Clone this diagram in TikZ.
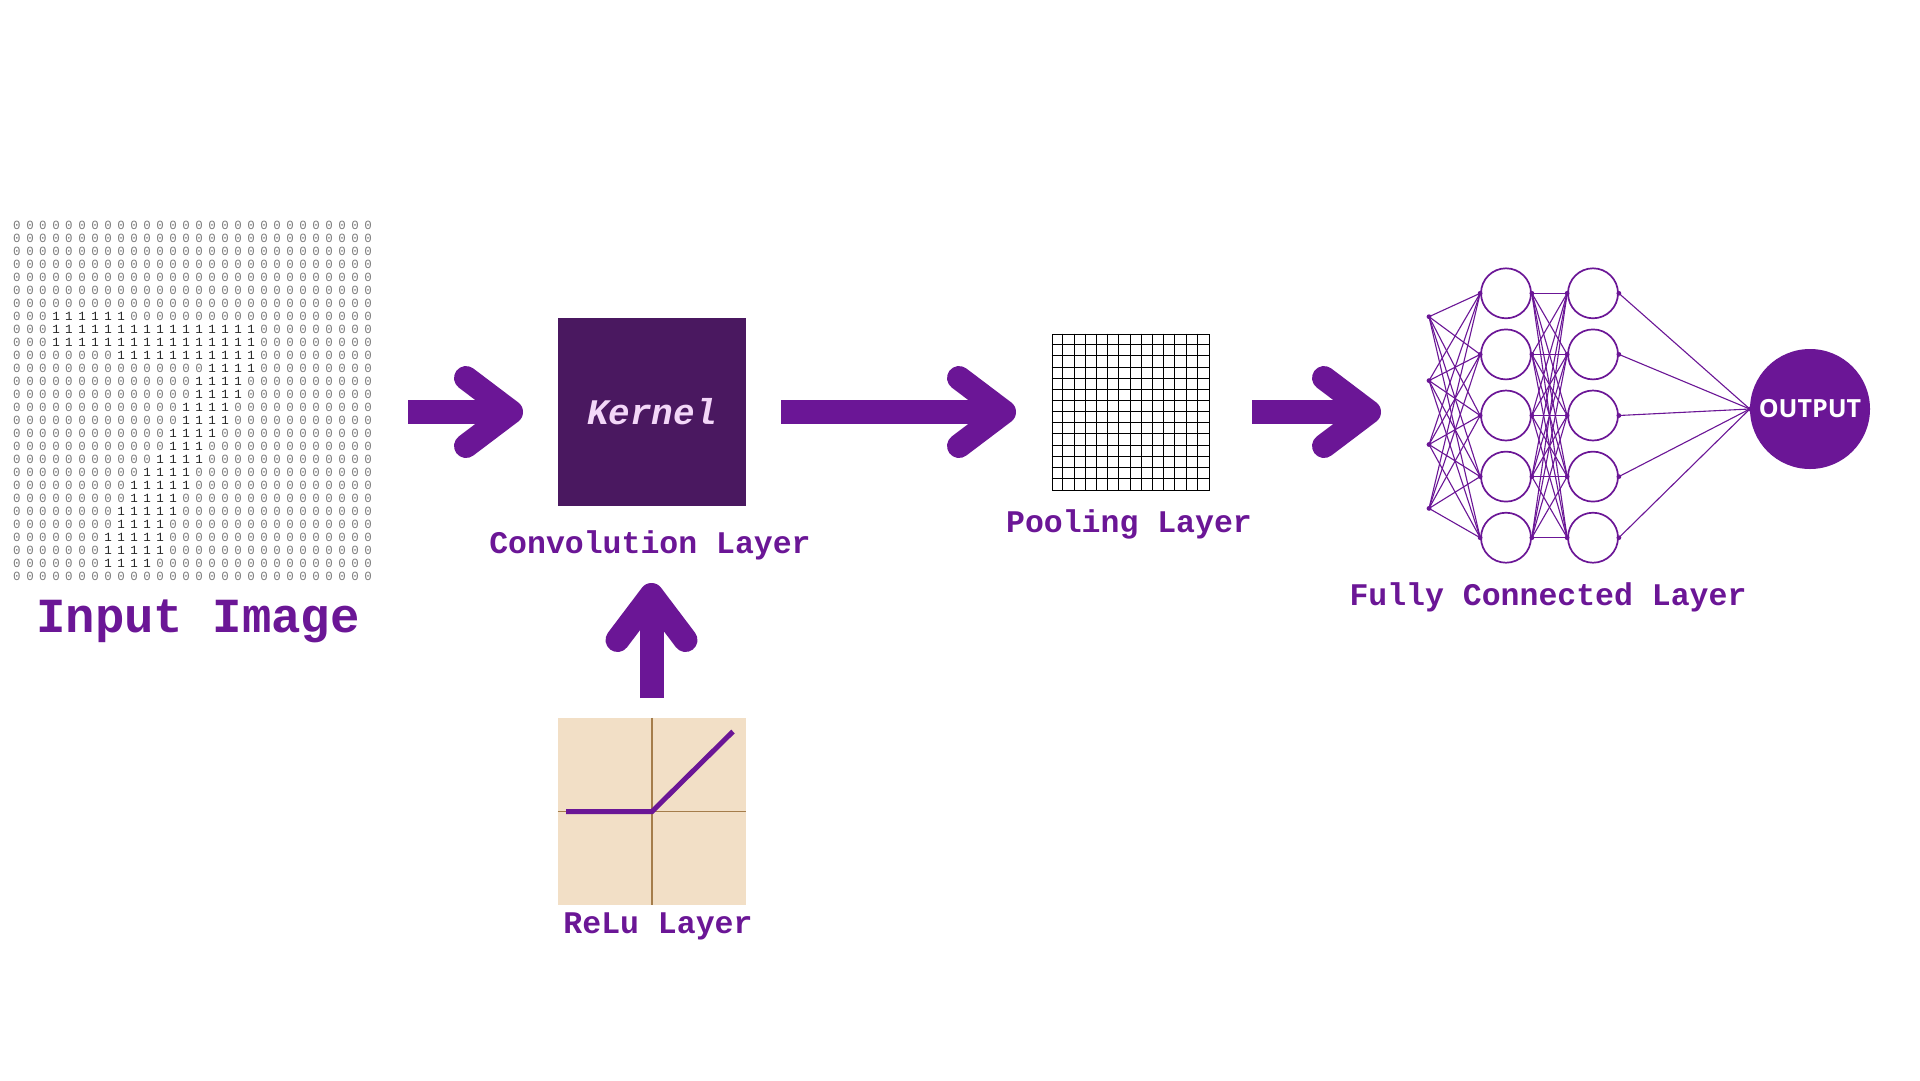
\documentclass[tikz,border=0pt]{standalone}
\usepackage{fontspec}
\setmonofont{Liberation Mono}
\newfontfamily\outfont{Open Sans}
\usetikzlibrary{calc}
\definecolor{cnnpurple}{RGB}{107,22,150}
\definecolor{kernelfill}{RGB}{74,24,96}
\definecolor{kerneltext}{RGB}{243,215,248}
\definecolor{relufill}{RGB}{242,223,198}
\definecolor{reluaxis}{RGB}{165,125,75}
\definecolor{zerogray}{RGB}{125,125,125}
\tikzset{
    digit zero/.style = {
        inner sep=0,
        text=zerogray,
        font=\ttfamily\fontsize{12.5}{12.5}\selectfont,
        },
    digit one/.style = {
        inner sep=0,
        text=black!85,
        font=\ttfamily\fontsize{12.5}{12.5}\selectfont,
        },
    layer box/.style = {
        minimum width=188pt,
        minimum height=188pt,
        inner sep=0,
        },
    layer label/.style = {
        anchor=base,
        inner sep=0,
        text=cnnpurple,
        font=\ttfamily\bfseries\fontsize{31.5}{31.5}\selectfont,
        },
    flow/.style = {
        draw=cnnpurple,
        line width=24pt,
        line cap=butt,
        },
    flow head/.style = {
        draw=cnnpurple,
        line width=24pt,
        line cap=round,
        line join=round,
        },
    pool line/.style = {
        draw=black,
        line width=0.9pt,
        },
    neuron/.style = {
        draw=cnnpurple,
        circle,
        line width=1.7pt,
        minimum size=50pt,
        inner sep=0,
        },
    synapse/.style = {
        draw=cnnpurple,
        line width=1.1pt,
        },
    pin/.style = {
        fill=cnnpurple,
        },
}

\begin{document}
\begin{tikzpicture}[x=1pt,y=-1pt]
    \useasboundingbox[fill=white] (0,0) rectangle (1920,1080);

    % input image: 28x28 digit
    \foreach \r/\a/\b in {0/99/-1,1/99/-1,2/99/-1,3/99/-1,4/99/-1,5/99/-1,6/99/-1,
        7/3/8,8/3/18,9/3/18,10/8/18,11/15/18,12/14/17,13/14/17,14/13/16,15/13/16,
        16/12/15,17/12/14,18/11/14,19/10/13,20/9/13,21/9/12,22/8/12,23/8/11,
        24/7/11,25/7/11,26/7/10,27/99/-1}{
        \foreach \c in {0,...,27}{
            \pgfmathtruncatemacro\bit{(\c>=\a)&&(\c<=\b)}
            \ifnum\bit=1
                \node[digit one] (d-\r-\c) at (17+13*\c, 225+13*\r) {1};
            \else
                \node[digit zero] (d-\r-\c) at (17+13*\c, 225+13*\r) {0};
            \fi
        }
    }
    \node[layer label, font=\ttfamily\bfseries\fontsize{49}{49}\selectfont] (input-label) at (198,632) {Input Image};

    % convolution
    \node[layer box, fill=kernelfill, text=kerneltext,
        font=\ttfamily\bfseries\itshape\fontsize{36}{36}\selectfont] (kernel) at (652,412) {Kernel};
    \node[layer label] (conv-label) at (650,553) {Convolution Layer};

    % relu
    \node[layer box, fill=relufill, minimum height=187pt] (relu) at (652,811.5) {};
    \draw[reluaxis, line width=1.4pt] (relu.north) -- (relu.south);
    \draw[reluaxis, line width=1.4pt] (relu.west) -- (relu.east);
    \draw[cnnpurple, line width=5pt] ($(relu.center)+(-86,0)$) -- (relu.center) -- ($(relu.center)+(81,-80)$);
    \node[layer label] (relu-label) at (658,933) {ReLu Layer};

    % pooling
    \node[draw, line width=0.9pt, minimum width=157pt, minimum height=156pt, inner sep=0] (pool) at (1130.5,412) {};
    \foreach \i in {1,...,13}{
        \draw[pool line] ($(pool.north west)+(\i*157/14,0)$) -- ($(pool.south west)+(\i*157/14,0)$);
        \draw[pool line] ($(pool.north west)+(0,\i*156/14)$) -- ($(pool.north east)+(0,\i*156/14)$);
    }
    \node[layer label] (pool-label) at (1129,532) {Pooling Layer};

    % fully connected
    \foreach \i in {1,...,4}
        \coordinate (in-\i) at (1429, 252.8+63.9*\i);
    \foreach \i in {1,...,5}{
        \node[neuron] (h1-\i) at (1506, 232.2+61.1*\i) {};
        \node[neuron] (h2-\i) at (1593, 232.2+61.1*\i) {};
    }
    \node[circle, fill=cnnpurple, minimum size=120pt, inner sep=0, text=white,
        font=\outfont\bfseries\fontsize{25}{25}\selectfont] (out) at (1810,409) {OUTPUT};

    \foreach \i in {1,...,4}
        \foreach \j in {1,...,5}
            \draw[synapse] (in-\i) -- (h1-\j.west);
    \foreach \i in {1,...,5}
        \foreach \j in {1,...,5}
            \draw[synapse] (h1-\i.east) -- (h2-\j.west);
    \foreach \i in {1,...,5}
        \draw[synapse] (h2-\i.east) -- (out.west);

    \foreach \i in {1,...,4}
        \fill[pin] (in-\i) circle (2.4pt);
    \foreach \i in {1,...,5}{
        \fill[pin] (h1-\i.west) circle (2.4pt);
        \fill[pin] (h1-\i.east) circle (2.4pt);
        \fill[pin] (h2-\i.west) circle (2.4pt);
        \fill[pin] (h2-\i.east) circle (2.4pt);
    }
    \fill[pin] (out.west) circle (2.4pt);
    \node[layer label] (fc-label) at (1548,605) {Fully Connected Layer};

    % arrows between the stages
    \coordinate (a1-s) at (408,412);
    \coordinate (a1-e) at (511,412);
    \coordinate (a2-s) at (781,412);
    \coordinate (a2-e) at (1004,412);
    \coordinate (a3-s) at (1252,412);
    \coordinate (a3-e) at (1369,412);
    \foreach \k in {1,2,3}{
        \draw[flow] (a\k-s) -- (a\k-e);
        \draw[flow head] ($(a\k-e)+(-45,-34)$) -- (a\k-e) -- ($(a\k-e)+(-45,34)$);
    }
    \coordinate (a4-s) at (651.5,698);
    \coordinate (a4-e) at (651.5,595);
    \draw[flow] (a4-s) -- (a4-e);
    \draw[flow head] ($(a4-e)+(-34,45)$) -- (a4-e) -- ($(a4-e)+(34,45)$);
\end{tikzpicture}
\end{document}
